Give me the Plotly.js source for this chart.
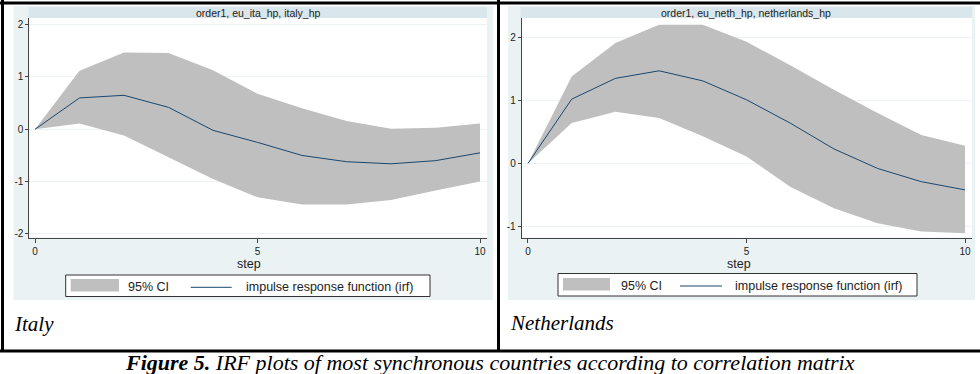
<!DOCTYPE html>
<html>
<head>
<meta charset="utf-8">
<script src="https://cdn.plot.ly/plotly-3.0.1.min.js"></script>
<style>
  html, body { margin: 0; padding: 0; background: #ffffff; }
  #chart { width: 980px; height: 374px; }
</style>
</head>
<body>
<div id="chart"></div>
<script>
// ---------------- data ----------------
const steps = [0, 1, 2, 3, 4, 5, 6, 7, 8, 9, 10];
const xTickVals = [0, 5, 10];
const xTickText = ["0", "5", "10"];

const italyIrf   = [0, 0.60, 0.65, 0.42, -0.02, -0.25, -0.50, -0.62, -0.66, -0.60, -0.45];
const italyUpper = [0, 1.12, 1.47, 1.46, 1.13, 0.68, 0.40, 0.16, 0.01, 0.03, 0.11];
const italyLower = [0, 0.11, -0.12, -0.53, -0.95, -1.30, -1.44, -1.44, -1.35, -1.17, -1.00];
const italyYTickVals = [-2, -1, 0, 1, 2];
const italyYTickText = ["-2", "-1", "0", "1", "2"];

const nlIrf   = [0, 1.02, 1.35, 1.47, 1.31, 1.01, 0.64, 0.23, -0.08, -0.29, -0.42];
const nlUpper = [0, 1.38, 1.91, 2.20, 2.20, 1.93, 1.56, 1.17, 0.80, 0.45, 0.28];
const nlLower = [0, 0.64, 0.82, 0.72, 0.43, 0.11, -0.37, -0.71, -0.95, -1.08, -1.11];
const nlYTickVals = [-1, 0, 1, 2];
const nlYTickText = ["-1", "0", "1", "2"];

const panelTitles = ["order1, eu_ita_hp, italy_hp", "order1, eu_neth_hp, netherlands_hp"];
const panelLabels = ["Italy", "Netherlands"];
const legendLabels = ["95% CI", "impulse response function (irf)"];
const xTitle = "step";
const caption = "<b><i>Figure 5.</i></b><i> IRF plots of most synchronous countries according to correlation matrix</i>";

// ---------------- styling ----------------
const W = 980, H = 374;
const px = x => x / W;
const py = y => 1 - y / H;
const CI_COLOR = "#bfbfbf";
const LINE_COLOR = "#1a476f";
const REGION_BG = "#eaf2f3";
const BAND_BG = "#d9e6eb";
const AXIS_COLOR = "#444";
const sans = "Liberation Sans, Arial, sans-serif";
const serif = "Liberation Serif, Times New Roman, serif";

function band(xa, ya, lower, upper, irf) {
  return [
    { x: steps, y: lower, xaxis: xa, yaxis: ya, type: "scatter", mode: "lines",
      line: { width: 0, color: CI_COLOR }, showlegend: false, hoverinfo: "skip" },
    { x: steps, y: upper, xaxis: xa, yaxis: ya, type: "scatter", mode: "lines",
      fill: "tonexty", fillcolor: CI_COLOR, line: { width: 0, color: CI_COLOR },
      showlegend: false, hoverinfo: "skip" },
    { x: steps, y: irf, xaxis: xa, yaxis: ya, type: "scatter", mode: "lines",
      line: { width: 1, color: LINE_COLOR }, showlegend: false }
  ];
}

const data = [].concat(
  band("x", "y", italyLower, italyUpper, italyIrf),
  band("x2", "y2", nlLower, nlUpper, nlIrf)
);

function xAxis(domain, range, anchor) {
  return {
    domain: domain, range: range, anchor: anchor,
    tickvals: xTickVals, ticktext: xTickText,
    showline: true, linecolor: AXIS_COLOR, linewidth: 1,
    ticks: "outside", ticklen: 4, tickcolor: AXIS_COLOR, tickwidth: 1,
    showgrid: false, zeroline: false, fixedrange: true,
    tickfont: { family: sans, size: 10, color: "#222" }
  };
}
function yAxis(domain, range, anchor, tv, tt) {
  return {
    domain: domain, range: range, anchor: anchor,
    tickvals: tv, ticktext: tt,
    showline: true, linecolor: AXIS_COLOR, linewidth: 1,
    ticks: "outside", ticklen: 3, tickcolor: AXIS_COLOR, tickwidth: 1,
    showgrid: true, gridcolor: "#edf2f4", gridwidth: 1,
    zeroline: false, fixedrange: true,
    tickfont: { family: sans, size: 10, color: "#222" }
  };
}

const yDom = [py(237.5), py(18)];

function rect(x0, y0, x1, y1, fill, line, layer) {
  return { type: "rect", xref: "paper", yref: "paper",
    x0: px(x0), x1: px(x1), y0: py(y1), y1: py(y0),
    fillcolor: fill, line: line || { width: 0 }, layer: layer || "below" };
}
function seg(x0, y0, x1, y1, color, width, layer) {
  return { type: "line", xref: "paper", yref: "paper",
    x0: px(x0), x1: px(x1), y0: py(y0), y1: py(y1),
    line: { color: color, width: width }, layer: layer || "above" };
}
function text(x, y, t, opts) {
  return Object.assign({ xref: "paper", yref: "paper", x: px(x), y: py(y), text: t,
    showarrow: false, xanchor: "center", yanchor: "middle",
    font: { family: sans, size: 11, color: "#222" } }, opts || {});
}

const shapes = [
  // graph regions
  rect(13.5, 6, 493, 300, REGION_BG),
  rect(29.3, 18, 487, 237.5, "#ffffff"),
  rect(28.5, 7, 487, 18, BAND_BG),
  rect(508, 6, 975, 300, REGION_BG),
  rect(521.7, 18, 972, 237.5, "#ffffff"),
  rect(520.5, 7, 972, 18, BAND_BG),
  // legends
  rect(65.7, 275, 430, 296.5, "#ffffff", { color: "#333", width: 1 }, "above"),
  rect(70.7, 279, 119, 291.5, CI_COLOR, { width: 0 }, "above"),
  seg(190.7, 287.3, 231.7, 287.3, LINE_COLOR, 1),
  rect(558, 273.5, 917, 296, "#ffffff", { color: "#333", width: 1 }, "above"),
  rect(563, 278, 610, 290.5, CI_COLOR, { width: 0 }, "above"),
  seg(680, 286, 722, 286, LINE_COLOR, 1),
  // table borders
  seg(0, 3, 980, 3, "#000", 3),
  seg(2.5, 0, 2.5, 352, "#000", 3),
  seg(498.5, 0, 498.5, 352, "#000", 3),
  seg(0, 351, 980, 351, "#000", 3)
];

const annotations = [
  text(258, 13, panelTitles[0], { font: { family: sans, size: 10.5, color: "#222" } }),
  text(746, 13, panelTitles[1], { font: { family: sans, size: 10.5, color: "#222" } }),
  text(249, 264, xTitle, { font: { family: sans, size: 12.5, color: "#222" } }),
  text(738.5, 264, xTitle, { font: { family: sans, size: 12.5, color: "#222" } }),
  text(126, 287.3, legendLabels[0], { xanchor: "left", font: { family: sans, size: 12.5, color: "#222" } }),
  text(244, 287.3, legendLabels[1], { xanchor: "left", font: { family: sans, size: 12.5, color: "#222" } }),
  text(619, 286, legendLabels[0], { xanchor: "left", font: { family: sans, size: 12.5, color: "#222" } }),
  text(733, 286, legendLabels[1], { xanchor: "left", font: { family: sans, size: 12.5, color: "#222" } }),
  text(12, 324, "<i>" + panelLabels[0] + "</i>", { xanchor: "left", font: { family: serif, size: 21, color: "#000" } }),
  text(508, 323, "<i>" + panelLabels[1] + "</i>", { xanchor: "left", font: { family: serif, size: 21, color: "#000" } }),
  text(489.5, 362.5, caption, { borderpad: 0, font: { family: serif, size: 22, color: "#000" } })
];

const layout = {
  width: W, height: H,
  margin: { l: 0, r: 0, t: 0, b: 0, pad: 0 },
  paper_bgcolor: "#ffffff", plot_bgcolor: "#ffffff",
  showlegend: false,
  xaxis: xAxis([px(29.3), px(487)], [-0.128, 10.157], "y"),
  yaxis: yAxis(yDom, [-2.069, 2.128], "x", italyYTickVals, italyYTickText),
  xaxis2: xAxis([px(521.7), px(972)], [-0.144, 10.16], "y2"),
  yaxis2: yAxis(yDom, [-1.176, 2.308], "x2", nlYTickVals, nlYTickText),
  shapes: shapes,
  annotations: annotations
};

Plotly.newPlot("chart", data, layout, { displayModeBar: false, staticPlot: true });
</script>
</body>
</html>
